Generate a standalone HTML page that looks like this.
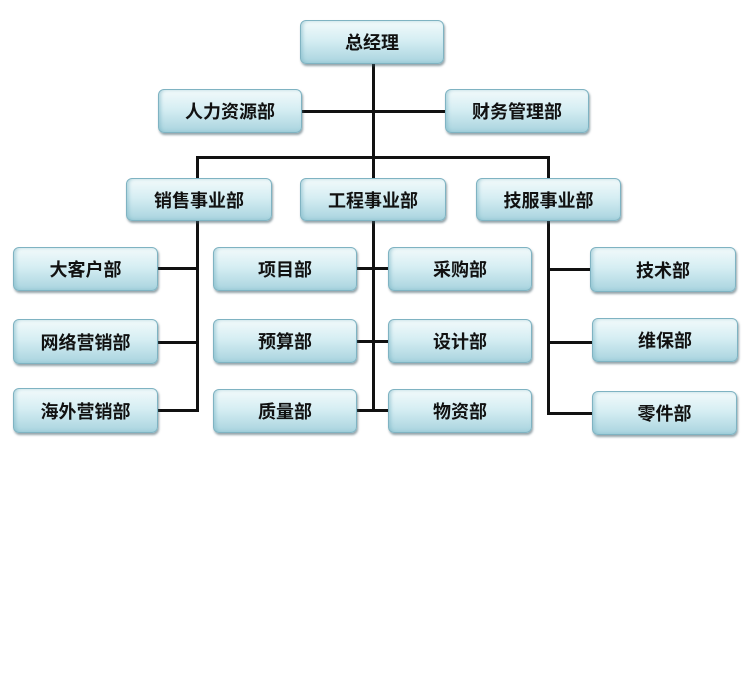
<!DOCTYPE html>
<html><head><meta charset="utf-8"><style>
body{margin:0;width:756px;height:695px;background:#fff;position:relative;overflow:hidden}
.b{position:absolute;box-sizing:border-box;border-radius:6px;border:1px solid #7fb3c2;
background:linear-gradient(to bottom,#f2fafb 0%,#d6eef3 45%,#a9d4df 100%);
box-shadow:1px 2px 2px rgba(60,90,100,.55), inset 2px 0 3px rgba(120,180,195,.5);
display:flex;align-items:center;justify-content:center;
font-family:"Liberation Sans","Noto Sans CJK SC",sans-serif;font-weight:bold;font-size:18px;color:#111}
.l{position:absolute;background:#111}
</style></head><body>
<!-- lines -->
<div class="l" style="left:372px;top:64px;width:3px;height:348px"></div>
<div class="l" style="left:302px;top:110px;width:143px;height:3px"></div>
<div class="l" style="left:196px;top:156px;width:354px;height:3px"></div>
<div class="l" style="left:196px;top:156px;width:3px;height:256px"></div>
<div class="l" style="left:547px;top:156px;width:3px;height:259px"></div>
<div class="l" style="left:158px;top:267px;width:40px;height:3px"></div>
<div class="l" style="left:158px;top:341px;width:40px;height:3px"></div>
<div class="l" style="left:158px;top:409px;width:40px;height:3px"></div>
<div class="l" style="left:357px;top:267px;width:32px;height:3px"></div>
<div class="l" style="left:357px;top:340px;width:32px;height:3px"></div>
<div class="l" style="left:357px;top:409px;width:32px;height:3px"></div>
<div class="l" style="left:548px;top:268px;width:43px;height:3px"></div>
<div class="l" style="left:548px;top:341px;width:44px;height:3px"></div>
<div class="l" style="left:548px;top:412px;width:44px;height:3px"></div>
<!-- boxes -->
<div class="b" style="left:300px;top:20px;width:144px;height:44px">总经理</div>
<div class="b" style="left:158px;top:89px;width:144px;height:44px">人力资源部</div>
<div class="b" style="left:445px;top:89px;width:144px;height:44px">财务管理部</div>
<div class="b" style="left:126px;top:178px;width:146px;height:43px">销售事业部</div>
<div class="b" style="left:300px;top:178px;width:146px;height:43px">工程事业部</div>
<div class="b" style="left:476px;top:178px;width:145px;height:43px">技服事业部</div>
<div class="b" style="left:13px;top:247px;width:145px;height:44px">大客户部</div>
<div class="b" style="left:13px;top:319px;width:145px;height:45px">网络营销部</div>
<div class="b" style="left:13px;top:388px;width:145px;height:45px">海外营销部</div>
<div class="b" style="left:213px;top:247px;width:144px;height:44px">项目部</div>
<div class="b" style="left:213px;top:319px;width:144px;height:44px">预算部</div>
<div class="b" style="left:213px;top:389px;width:144px;height:44px">质量部</div>
<div class="b" style="left:388px;top:247px;width:144px;height:44px">采购部</div>
<div class="b" style="left:388px;top:319px;width:144px;height:44px">设计部</div>
<div class="b" style="left:388px;top:389px;width:144px;height:44px">物资部</div>
<div class="b" style="left:590px;top:247px;width:146px;height:45px">技术部</div>
<div class="b" style="left:592px;top:318px;width:146px;height:44px">维保部</div>
<div class="b" style="left:592px;top:391px;width:145px;height:44px">零件部</div>
</body></html>
